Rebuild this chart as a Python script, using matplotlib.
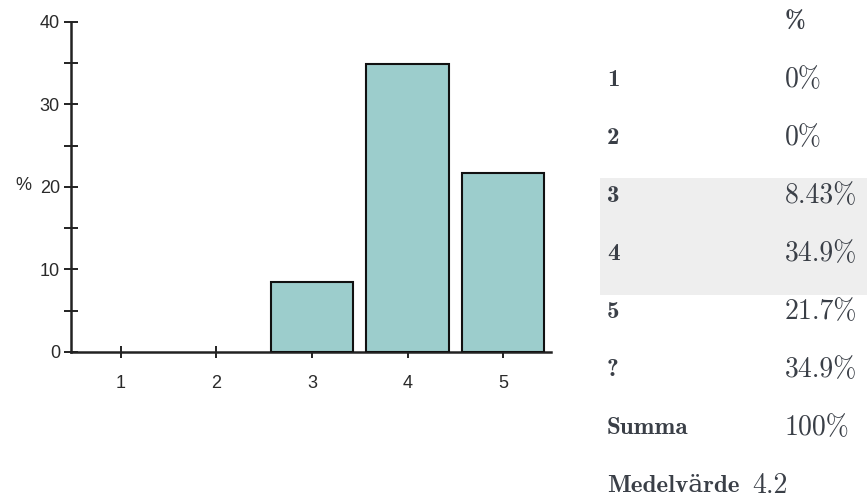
import matplotlib
matplotlib.use("Agg")
import matplotlib.pyplot as plt
from matplotlib.patches import Rectangle
from matplotlib.ticker import MultipleLocator

categories = [1, 2, 3, 4, 5]
percent = [0, 0, 8.43, 34.9, 21.7]

row_labels = ["1", "2", "3", "4", "5", "?", "Summa", "Medelvärde"]
row_values = ["0%", "0%", "8.43%", "34.9%", "21.7%", "34.9%", "100%", "4.2"]

W, H = 867, 504
fig = plt.figure(figsize=(W / 100, H / 100), dpi=100)

# chart
ax = fig.add_axes([71 / W, 1 - 352 / H, 480 / W, (352 - 21.7) / H])
edge_w = [1.5 if v > 0 else 0 for v in percent]
ax.bar(categories, percent, width=0.86, color="#9ccdcc", edgecolor="#111111", linewidth=edge_w, zorder=3)
ax.set_xlim(0.48, 5.5)
ax.set_ylim(0, 40)
ax.set_xticks(categories)
ax.yaxis.set_major_locator(MultipleLocator(10))
ax.yaxis.set_minor_locator(MultipleLocator(5))
for s in ["top", "right"]:
    ax.spines[s].set_visible(False)
for s in ["left", "bottom"]:
    ax.spines[s].set_linewidth(1.8)
    ax.spines[s].set_color("#222222")
ax.tick_params(which="both", direction="inout", width=1.4, color="#222222", labelsize=13,
               labelcolor="#2a2a2a")
ax.tick_params(axis="y", which="both", length=10, pad=3)
ax.tick_params(axis="x", length=9, pad=12)
for lab in ax.get_xticklabels() + ax.get_yticklabels():
    lab.set_family("Liberation Sans")
ax.set_ylabel("%", rotation=0, fontsize=13, family="Liberation Sans", color="#2a2a2a",
              ha="center", va="center")
ax.yaxis.set_label_coords(-0.10, 0.505)

# table on the right
fig.add_artist(Rectangle((600 / W, 1 - 295 / H), (W - 600) / W, 117 / H,
                         transform=fig.transFigure, facecolor="#eeeeee", edgecolor="none"))
tcolor = "#3a3f47"
fig.text(785 / W, 1 - 23 / H, "%", fontsize=18, family="cmb10", color=tcolor, va="center")
for i, (lab, val) in enumerate(zip(row_labels, row_values)):
    y = 1 - (80 + 58 * i) / H
    fig.text(607 / W, y, lab, fontsize=18, family=["cmb10", "DejaVu Serif"], color=tcolor, va="center")
    vx = 785 if lab != "Medelvärde" else 752
    fig.text(vx / W, y, val, fontsize=20, family=["cmr10", "DejaVu Serif"], color=tcolor, va="center")

fig.savefig("out.png", dpi=100)
